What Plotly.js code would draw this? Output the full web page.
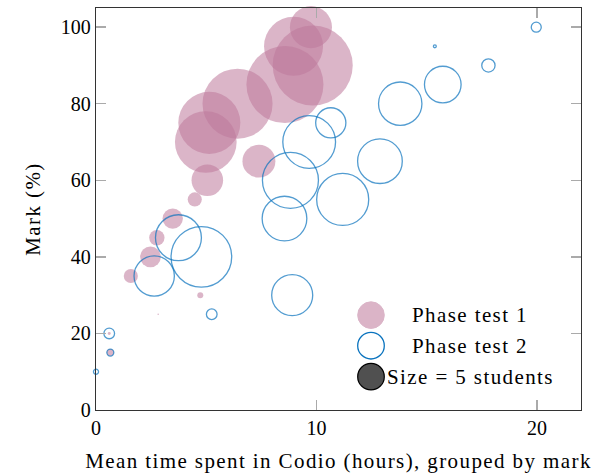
<!DOCTYPE html>
<html>
<head>
<meta charset="utf-8">
<script src="https://cdn.plot.ly/plotly-3.0.1.min.js"></script>
<style>
html,body{margin:0;padding:0;background:#fff;}
#chart{width:597px;height:475px;}
.xtitle,.ytitle,.annotation-text{letter-spacing:1.4px;}
</style>
</head>
<body>
<div id="chart"></div>
<script>
// Phase test 1 (filled pink bubbles)
const marks1 = [100, 95, 90, 85, 80, 75, 70, 65, 60, 55, 50, 45, 40, 35, 30, 25, 20, 15];
const hours1 = [9.75, 8.96, 9.83, 8.57, 6.42, 5.14, 4.98, 7.39, 5.05, 4.48, 3.48, 2.76, 2.47, 1.58, 4.73, 2.82, 0.6, 0.65];
const students1 = [12.4, 24.4, 44.9, 41.6, 34.4, 27, 26.7, 7.6, 7, 1.4, 2.9, 1.65, 3, 1.4, 0.25, 0.016, 0.06, 0.34];
// Phase test 2 (blue rings)
const marks2 = [100, 95, 90, 85, 80, 75, 70, 65, 60, 55, 50, 45, 40, 35, 30, 25, 20, 15, 10];
const hours2 = [19.97, 15.37, 17.8, 15.73, 13.8, 10.65, 9.67, 12.88, 8.82, 11.19, 8.55, 3.74, 4.78, 2.64, 8.9, 5.25, 0.6, 0.65, 0];
const students2 = [0.7, 0.06, 1.24, 9.4, 13.2, 6.4, 19.5, 14, 22, 19, 14, 14.8, 25.8, 11.4, 11.8, 0.8, 0.8, 0.34, 0.18];
const xTicks = [0, 10, 20];
const yTicks = [0, 20, 40, 60, 80, 100];
const legendNames = ["Phase test 1", "Phase test 2", "Size = 5 students"];

const FONT = "Liberation Serif, Times New Roman, serif";
const PINK = "rgb(190,120,155)";
const BLUE = "rgb(10,115,190)";
const SIZEREF = 1 / 71.3; // 5 students -> ~26.7 px diameter

const traces = [
  {
    x: hours1, y: marks1, type: "scatter", mode: "markers", name: legendNames[0],
    cliponaxis: false,
    marker: {size: students1, sizemode: "area", sizeref: SIZEREF, color: PINK, opacity: 0.55, line: {width: 0}}
  },
  {
    x: hours2, y: marks2, type: "scatter", mode: "markers", name: legendNames[1],
    cliponaxis: false,
    marker: {size: students2, sizemode: "area", sizeref: SIZEREF, color: "rgba(0,0,0,0)", line: {width: 1.3, color: BLUE}}
  }
];

const lx = 0.567, tx = 0.772, ly = [0.236, 0.160, 0.083], r = 13.3;
const circ = (y, fill, line, lw, op) => ({
  type: "circle", xref: "paper", yref: "paper", xsizemode: "pixel", ysizemode: "pixel",
  xanchor: lx, yanchor: y, x0: -r, x1: r, y0: -r, y1: r,
  fillcolor: fill, opacity: op, line: {color: line, width: lw}
});

const layout = {
  width: 597, height: 475,
  margin: {l: 96, r: 16, t: 8, b: 65},
  paper_bgcolor: "#fff", plot_bgcolor: "#fff",
  showlegend: false,
  font: {family: FONT, size: 20, color: "#000"},
  xaxis: {
    range: [0, 22], tickvals: xTicks, ticktext: xTicks.map(String),
    ticks: "inside", ticklen: 10, tickwidth: 1.3, tickcolor: "#aaa",
    showline: true, linecolor: "#333", linewidth: 1.3, mirror: "ticks",
    showgrid: false, zeroline: false,
    tickfont: {family: FONT, size: 20},
    title: {text: "Mean time spent in Codio (hours), grouped by mark", font: {family: FONT, size: 21}, standoff: 15}
  },
  yaxis: {
    range: [0, 105], tickvals: yTicks, ticktext: yTicks.map(String),
    ticks: "inside", ticklen: 10, tickwidth: 1.3, tickcolor: "#aaa",
    showline: true, linecolor: "#333", linewidth: 1.3, mirror: "ticks",
    showgrid: false, zeroline: false,
    tickfont: {family: FONT, size: 20},
    title: {text: "Mark (%)", font: {family: FONT, size: 21}, standoff: 14}
  },
  shapes: [
    circ(ly[0], PINK, PINK, 1, 0.55),
    circ(ly[1], "rgba(0,0,0,0)", BLUE, 1.3, 1),
    circ(ly[2], "rgb(80,80,80)", "#000", 1.2, 1)
  ],
  annotations: legendNames.map((t, i) => ({
    text: t, xref: "paper", yref: "paper", x: tx, y: ly[i],
    xanchor: "center", yanchor: "middle", showarrow: false,
    font: {family: FONT, size: 21, color: "#000"}
  }))
};

Plotly.newPlot("chart", traces, layout, {displayModeBar: false, staticPlot: true});
</script>
</body>
</html>
